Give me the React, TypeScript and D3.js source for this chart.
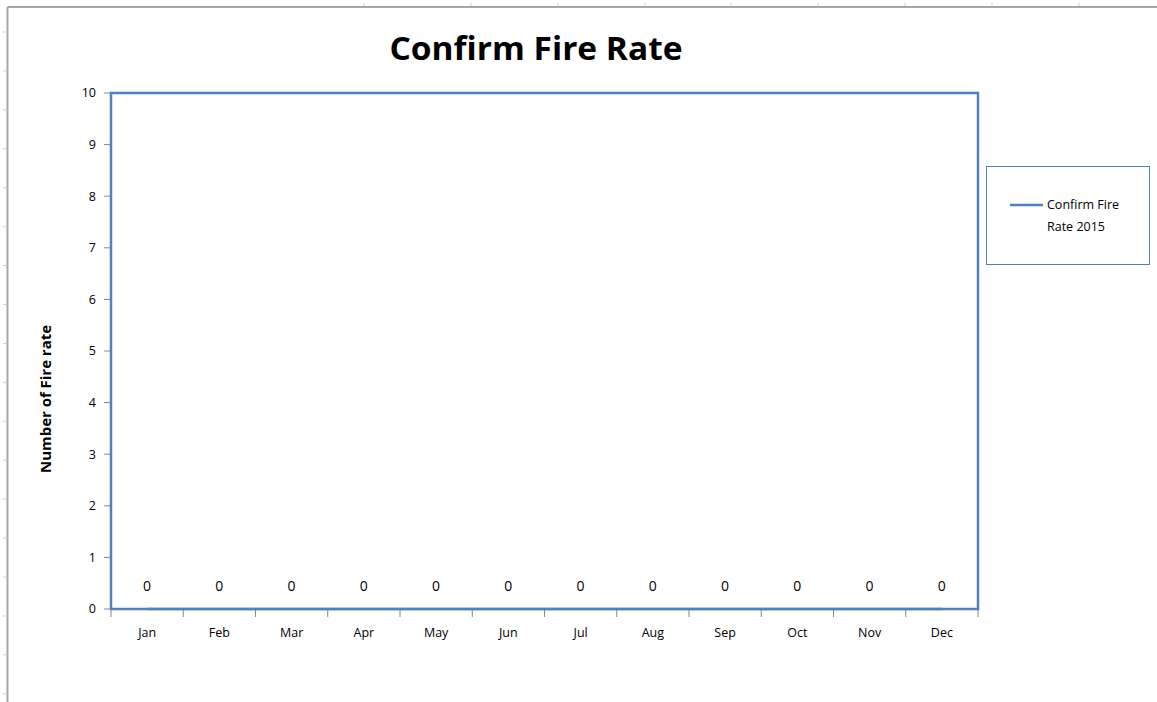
import React from "react";
import * as d3 from "d3";

const months = ["Jan", "Feb", "Mar", "Apr", "May", "Jun", "Jul", "Aug", "Sep", "Oct", "Nov", "Dec"];
const fireRate2015 = [0, 0, 0, 0, 0, 0, 0, 0, 0, 0, 0, 0];
const yTicks = [0, 1, 2, 3, 4, 5, 6, 7, 8, 9, 10];
const seriesName = ["Confirm Fire", "Rate 2015"];
const titleText = "Confirm Fire Rate";
const yAxisTitle = "Number of Fire rate";
const sheetColumnMarks = [364, 471, 558, 645, 731, 818, 905, 992, 1079];

const W = 1157;
const H = 702;
const BLUE = "#4F81BD";
const FONT = "'Open Sans', 'DejaVu Sans', sans-serif";

export default function App() {
  const left = 111, right = 978, top = 93, bottom = 609;
  const x = d3.scaleBand<string>().domain(months).range([left, right]).paddingInner(0).paddingOuter(0);
  const y = d3.scaleLinear().domain([0, 10]).range([bottom, top]);
  const line = d3
    .line<number>()
    .x((_, i) => (x(months[i]) as number) + x.bandwidth() / 2)
    .y((d) => y(d));
  const xBoundaries = d3.range(months.length + 1).map((i) => left + i * x.step());
  const sheetRows = d3.range(18).map((k) => 32 + k * 38.93);

  return (
    <svg
      width={W}
      height={H}
      style={{ position: "absolute", left: 0, top: 0, background: "#fff" }}
      fontFamily={FONT}
    >
      {/* spreadsheet frame */}
      <line x1={7.5} y1={7} x2={W} y2={7} stroke="#a6a6a6" strokeWidth={2} />
      <line x1={7.5} y1={7} x2={7.5} y2={H} stroke="#a6a6a6" strokeWidth={2} />
      {sheetColumnMarks.map((cx) => (
        <line key={"c" + cx} x1={cx} y1={3} x2={cx} y2={6} stroke="#d0d0d0" strokeWidth={1} />
      ))}
      {sheetRows.map((ry) => (
        <line key={"r" + ry} x1={3} y1={ry} x2={6} y2={ry} stroke="#d0d0d0" strokeWidth={1} />
      ))}

      {/* title */}
      <text x={536} y={60} textAnchor="middle" fontSize={33} fontWeight="bold" fill="#000" textLength={293} lengthAdjust="spacingAndGlyphs">
        {titleText}
      </text>

      {/* y ticks */}
      {yTicks.map((t) => (
        <g key={"y" + t}>
          <line x1={104} x2={left} y1={y(t)} y2={y(t)} stroke="#868686" strokeWidth={1} />
          <text x={96} y={y(t)} dy="0.35em" textAnchor="end" fontSize={12.5} fill="#000">
            {t}
          </text>
        </g>
      ))}

      {/* x ticks */}
      {xBoundaries.map((bx, i) => (
        <line key={"xb" + i} x1={bx} x2={bx} y1={bottom} y2={617} stroke="#868686" strokeWidth={1} />
      ))}
      {months.map((m) => (
        <text
          key={"m" + m}
          x={(x(m) as number) + x.bandwidth() / 2}
          y={633}
          dy="0.35em"
          textAnchor="middle"
          fontSize={12.5}
          fill="#000"
        >
          {m}
        </text>
      ))}

      {/* y axis title */}
      <text
        transform={`translate(51,399) rotate(-90)`}
        textAnchor="middle"
        fontSize={13.5}
        fontWeight="bold"
        fill="#000"
        textLength={148}
        lengthAdjust="spacingAndGlyphs"
      >
        {yAxisTitle}
      </text>

      {/* series line */}
      <path d={line(fireRate2015) || ""} fill="none" stroke={BLUE} strokeWidth={2.5} />

      {/* plot area border */}
      <rect x={left} y={top} width={right - left} height={bottom - top} fill="none" stroke={BLUE} strokeWidth={2.5} />

      {/* data labels */}
      {fireRate2015.map((v, i) => (
        <text
          key={"dl" + i}
          x={(x(months[i]) as number) + x.bandwidth() / 2}
          y={y(v) - 23}
          dy="0.35em"
          textAnchor="middle"
          fontSize={14}
          fill="#000"
        >
          {v}
        </text>
      ))}

      {/* legend */}
      <rect x={986.5} y={166.5} width={163} height={98} fill="#fff" stroke={BLUE} strokeWidth={1} />
      <line x1={1010} x2={1043} y1={205} y2={205} stroke={BLUE} strokeWidth={2.5} />
      <text x={1047} y={205} dy="0.35em" fontSize={12.5} fill="#000">
        {seriesName[0]}
      </text>
      <text x={1047} y={227} dy="0.35em" fontSize={12.5} fill="#000">
        {seriesName[1]}
      </text>
    </svg>
  );
}
